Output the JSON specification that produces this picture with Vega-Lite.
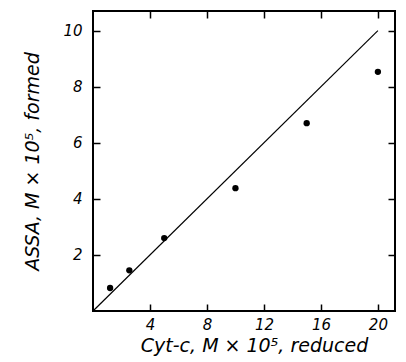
{
  "$schema": "https://vega.github.io/schema/vega-lite/v6.json",
  "width": 302,
  "height": 300,
  "autosize": "none",
  "padding": {"left": 93, "top": 11, "right": 11, "bottom": 51},
  "background": "white",
  "config": {
    "view": {"stroke": "black", "strokeWidth": 2},
    "axis": {
      "domain": false,
      "offset": -7,
      "tickColor": "black",
      "tickWidth": 1.5,
      "tickSize": 7,
      "ticks": true,
      "grid": false,
      "labelColor": "black",
      "labelFont": "DejaVu Sans",
      "labelFontStyle": "italic",
      "labelFontSize": 15,
      "titleColor": "black",
      "titleFont": "DejaVu Sans",
      "titleFontStyle": "italic",
      "titleFontWeight": "normal",
      "titleFontSize": 19
    }
  },
  "layer": [
    {
      "data": {"values": [{"x": 0, "y": 0}, {"x": 20, "y": 10}]},
      "mark": {"type": "line", "color": "black", "strokeWidth": 1.2},
      "encoding": {
        "x": {"field": "x", "type": "quantitative", "scale": {"domain": [0, 21.2], "nice": false},
              "axis": {"orient": "top", "values": [4, 8, 12, 16, 20], "labels": false, "title": null}},
        "y": {"field": "y", "type": "quantitative", "scale": {"domain": [0, 10.7], "nice": false},
              "axis": {"orient": "right", "values": [2, 4, 6, 8, 10], "labels": false, "title": null}}
      }
    },
    {
      "data": {"values": [
        {"cytc": 1.2, "assa": 0.82},
        {"cytc": 2.55, "assa": 1.45},
        {"cytc": 5.0, "assa": 2.6},
        {"cytc": 10.0, "assa": 4.38},
        {"cytc": 15.0, "assa": 6.7},
        {"cytc": 20.0, "assa": 8.53}
      ]},
      "mark": {"type": "point", "filled": true, "color": "black", "opacity": 1, "size": 40},
      "encoding": {
        "x": {"field": "cytc", "type": "quantitative", "scale": {"domain": [0, 21.2], "nice": false},
              "axis": {"orient": "bottom", "values": [4, 8, 12, 16, 20], "labelPadding": 6, "title": "Cyt-c, M × 10⁵, reduced", "titlePadding": 4, "titleX": 161}},
        "y": {"field": "assa", "type": "quantitative", "scale": {"domain": [0, 10.7], "nice": false},
              "axis": {"orient": "left", "values": [2, 4, 6, 8, 10], "labelPadding": 11, "title": "ASSA, M × 10⁵, formed", "titlePadding": 20}}
      }
    }
  ],
  "resolve": {"axis": {"x": "independent", "y": "independent"}}
}
